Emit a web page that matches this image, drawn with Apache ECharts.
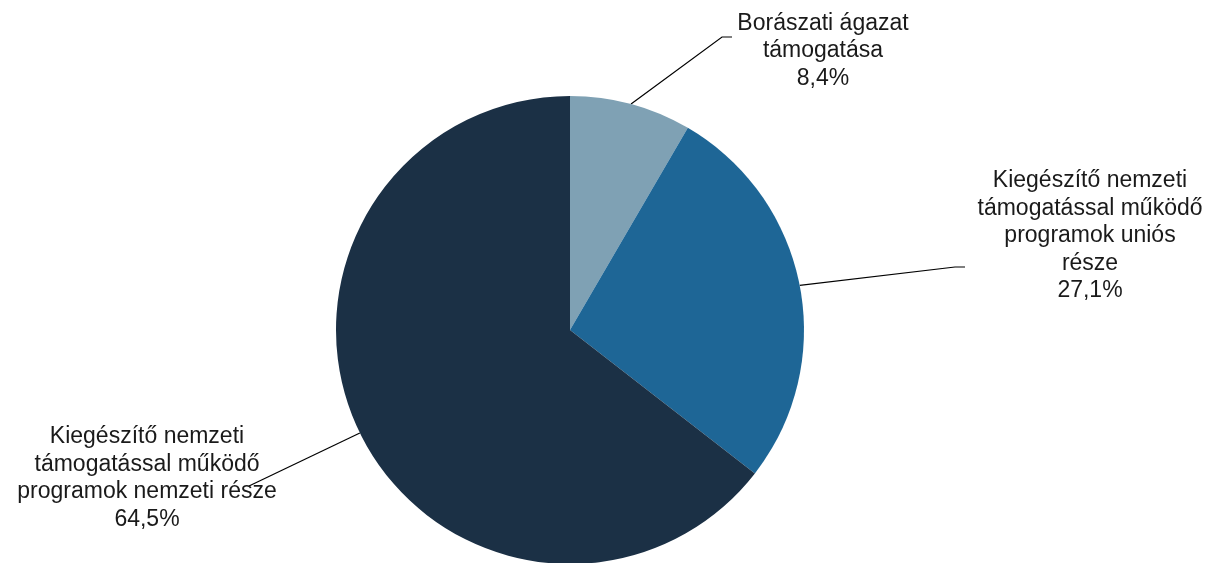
<!DOCTYPE html>
<html>
<head>
<meta charset="utf-8">
<script src="https://cdn.jsdelivr.net/npm/echarts@6/dist/echarts.min.js"></script>
<style>
html,body{margin:0;padding:0;background:#fff;}
#chart{width:1208px;height:563px;}
</style>
</head>
<body>
<div id="chart"></div>
<script>
// Data
var categories = [
  "Borászati ágazat\ntámogatása",
  "Kiegészítő nemzeti\ntámogatással működő\nprogramok uniós\nrésze",
  "Kiegészítő nemzeti\ntámogatással működő\nprogramok nemzeti része"
];
var shares = [8.4, 27.1, 64.5];
var colors = ["#7fa1b4", "#1e6696", "#1b3045"];

// Label placement (layout only)
var labelPos = [
  {x: 823, y: 51, line: [[722, 37], [732, 37]]},
  {x: 1090, y: 236, line: [[955, 267], [965, 267]]},
  {x: 147, y: 478, line: [[249, 486], [249, 486]]}
];

var chart = echarts.init(document.getElementById('chart'), null, {renderer: 'canvas'});
var option = {
  animation: false,
  backgroundColor: '#ffffff',
  series: [{
    type: 'pie',
    center: [570, 330],
    radius: 234,
    startAngle: 90,
    clockwise: true,
    avoidLabelOverlap: false,
    data: categories.map(function (c, i) {
      return {name: c, value: shares[i], itemStyle: {color: colors[i]}};
    }),
    label: {
      show: true,
      position: 'outside',
      color: '#1a1a1a',
      fontFamily: 'Liberation Sans, Arial, sans-serif',
      fontSize: 23,
      lineHeight: 27.5,
      align: 'center',
      formatter: function (p) {
        return p.name + '\n' + p.value.toFixed(1).replace('.', ',') + '%';
      }
    },
    labelLine: {
      show: true,
      lineStyle: {color: '#000000', width: 1.2}
    },
    labelLayout: function (params) {
      var i = params.dataIndex;
      var pos = labelPos[i];
      var start = params.labelLinePoints ? params.labelLinePoints[0] : pos.line[0];
      return {
        x: pos.x,
        y: pos.y,
        align: 'center',
        verticalAlign: 'middle',
        labelLinePoints: [start, pos.line[0], pos.line[1]]
      };
    },
    emphasis: {disabled: true}
  }]
};
chart.setOption(option);
</script>
</body>
</html>
